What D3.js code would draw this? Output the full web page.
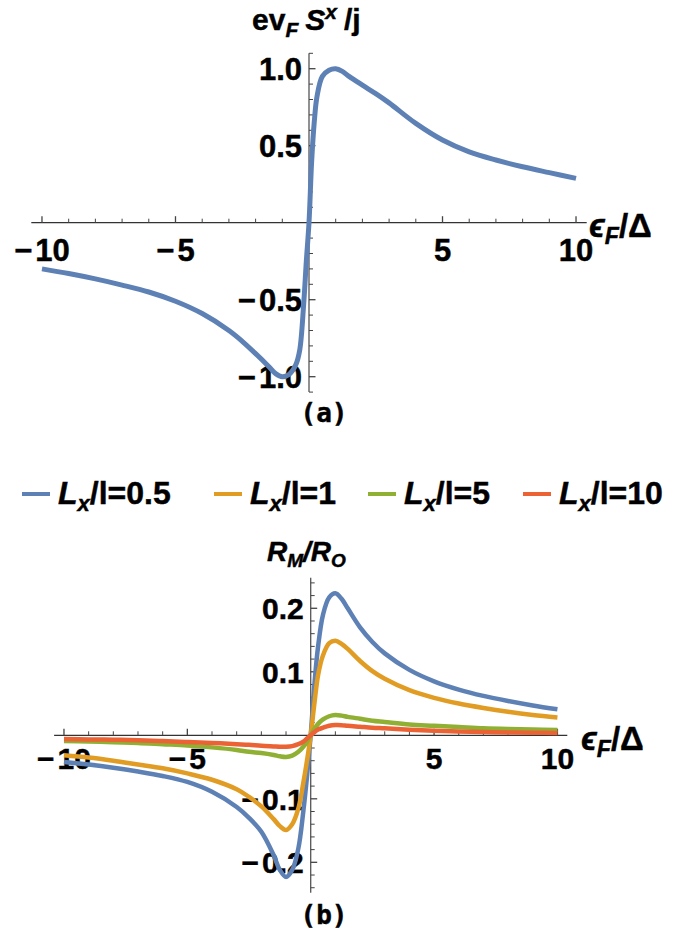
<!DOCTYPE html>
<html><head><meta charset="utf-8">
<script src="https://cdn.jsdelivr.net/npm/d3@7"></script>
<style>body{margin:0;background:#fff}text{font-family:"Liberation Sans",Arial,sans-serif;font-weight:bold;fill:#000;stroke:#000;stroke-width:0.45px}</style>
</head><body><svg id="c" width="697" height="938"></svg>
<script>
// ---------- data ----------
const topX = [-10,-9,-8,-7,-6,-5,-4,-3,-2.5,-2,-1.5,-1.25,-1,-0.75,-0.5,-0.35,-0.2,-0.1,0,0.1,0.2,0.3,0.5,0.75,1,1.25,1.5,2,2.5,3,4,5,6,7,8,9,10];
const topY = [-0.30,-0.33,-0.365,-0.405,-0.45,-0.51,-0.59,-0.70,-0.77,-0.85,-0.935,-0.98,-1.0,-0.985,-0.925,-0.83,-0.53,-0.25,0,0.40,0.66,0.82,0.95,0.99,1.0,0.983,0.95,0.893,0.838,0.778,0.645,0.537,0.46,0.407,0.363,0.325,0.288];

const botX = [-10,-9,-8,-7,-6,-5,-4,-3,-2.5,-2,-1.5,-1.25,-1,-0.75,-0.5,-0.3,-0.15,0,0.15,0.3,0.5,0.75,1,1.25,1.5,2,2.5,3,4,5,6,7,8,9,10];
const seriesNames = ["L_x/l=0.5","L_x/l=1","L_x/l=5","L_x/l=10"];
const seriesLabelTail = ["/l=0.5","/l=1","/l=5","/l=10"];
const blueY   = [-0.042,-0.046,-0.051,-0.057,-0.064,-0.0735,-0.089,-0.113,-0.13,-0.152,-0.189,-0.212,-0.223,-0.212,-0.178,-0.12,-0.065,0,0.08,0.14,0.19,0.217,0.2236,0.215,0.200,0.170,0.147,0.129,0.103,0.085,0.072,0.062,0.054,0.047,0.041];
const orangeY = [-0.0315,-0.035,-0.040,-0.046,-0.052,-0.060,-0.070,-0.085,-0.097,-0.112,-0.132,-0.143,-0.149,-0.140,-0.115,-0.075,-0.040,0,0.05,0.095,0.126,0.145,0.149,0.144,0.136,0.117,0.101,0.089,0.071,0.059,0.050,0.043,0.037,0.032,0.028];
const greenY  = [-0.009,-0.0098,-0.011,-0.012,-0.014,-0.016,-0.019,-0.023,-0.026,-0.028,-0.031,-0.033,-0.034,-0.032,-0.026,-0.018,-0.010,0,0.010,0.018,0.025,0.030,0.032,0.031,0.029,0.026,0.023,0.021,0.017,0.015,0.013,0.011,0.0098,0.009,0.0083];
const redY    = [-0.006,-0.0065,-0.007,-0.0078,-0.009,-0.0105,-0.012,-0.014,-0.015,-0.0165,-0.0175,-0.018,-0.018,-0.017,-0.014,-0.010,-0.005,0,0.005,0.009,0.012,0.015,0.0162,0.016,0.015,0.0135,0.012,0.011,0.0088,0.0072,0.006,0.0052,0.0046,0.0041,0.0037];
const botSeries = [blueY, orangeY, greenY, redY];
const colors = ["#5E81B5","#E19C24","#8FB032","#EB6235"];

const topXTicks = [-10,-5,5,10];
const topYTicks = [-1.0,-0.5,0.5,1.0];
const topXTickLabels = ["\u221210","\u22125","5","10"];
const topYTickLabels = ["\u22121.0","\u22120.5","0.5","1.0"];
const botXTicks = [-10,-5,5,10];
const botYTicks = [-0.2,-0.1,0.1,0.2];
const botXTickLabels = ["\u221210","\u22125","5","10"];
const botYTickLabels = ["\u22120.2","\u22120.1","0.1","0.2"];

// ---------- drawing ----------
const svg = d3.select("#c");
const xT = d3.scaleLinear().domain([-10.4,10.4]).range([31.3,586.7]);
const yT = d3.scaleLinear().domain([-1.1,1.1]).range([392.1,53.3]);
const xB = d3.scaleLinear().domain([-10.4,10.4]).range([54.1,567.3]);
const yB = d3.scaleLinear().domain([-0.248,0.248]).range([892.8,577.8]);

function tickText(sel, s){
  if (s[0] === "\u2212") { sel.append("tspan").text("\u2212"); sel.append("tspan").attr("dx",3).text(s.slice(1)); }
  else sel.text(s);
}

function axes(g, x, y, xMinor, yMinor, xMaj, yMaj, xLab, yLab, fs, lblOff){
  const x0 = x(0), y0 = y(0);
  const xd = x.domain(), yd = y.domain();
  g.append("line").attr("x1",x(xd[0])).attr("x2",x(xd[1])).attr("y1",y0).attr("y2",y0).attr("stroke","#333").attr("stroke-width",1.3);
  g.append("line").attr("x1",x0).attr("x2",x0).attr("y1",y(yd[0])).attr("y2",y(yd[1])).attr("stroke","#555").attr("stroke-width",1.3);
  xMinor.forEach(v=>{ if(Math.abs(v)<1e-9) return; const maj = xMaj.some(m=>Math.abs(m-v)<1e-9);
    g.append("line").attr("x1",x(v)).attr("x2",x(v)).attr("y1",y0).attr("y2",y0-(maj?6.5:4)).attr("stroke","#444").attr("stroke-width",maj?1.3:1);});
  yMinor.forEach(v=>{ if(Math.abs(v)<1e-9) return; const maj = yMaj.some(m=>Math.abs(m-v)<1e-9);
    g.append("line").attr("x1",x0).attr("x2",x0+(maj?6.5:4)).attr("y1",y(v)).attr("y2",y(v)).attr("stroke","#444").attr("stroke-width",maj?1.3:1);});
  xMaj.forEach((v,i)=>tickText(g.append("text").attr("x",x(v)).attr("y",y0+lblOff).attr("text-anchor","middle").attr("font-size",fs), xLab[i]));
  yMaj.forEach((v,i)=>tickText(g.append("text").attr("x",x0-7).attr("y",y(v)+fs*0.36).attr("text-anchor","end").attr("font-size",fs), yLab[i]));
}

const curve = d3.curveCatmullRom.alpha(0.5);

// top panel
const gT = svg.append("g");
axes(gT, xT, yT, d3.range(-10,10.5,1), d3.range(-11,11.5,1).map(d=>d/10), topXTicks, topYTicks, topXTickLabels, topYTickLabels, 31, 38);
const lineT = d3.line().x((d,i)=>xT(topX[i])).y(d=>yT(d)).curve(curve);
gT.append("path").attr("d",lineT(topY)).attr("fill","none").attr("stroke",colors[0]).attr("stroke-width",5).attr("stroke-linejoin","round");

// top title
const tt = gT.append("text").attr("x",252).attr("y",30).attr("font-size",30);
tt.append("tspan").text("ev");
tt.append("tspan").attr("font-style","italic").attr("font-size",21).attr("dy",7).text("F");
tt.append("tspan").attr("font-style","italic").attr("dy",-7).attr("dx",7).text("S");
tt.append("tspan").attr("font-style","italic").attr("font-size",21).attr("dy",-11).text("x");
tt.append("tspan").attr("dy",11).attr("dx",7).text("/j");

function epsLabel(g, x, y){
  const t = g.append("text").attr("x",x).attr("y",y).attr("font-size",33);
  t.append("tspan").attr("font-style","italic").text("\u03F5");
  t.append("tspan").attr("font-style","italic").attr("font-size",23).attr("dy",7).text("F");
  t.append("tspan").attr("dy",-7).text("/\u0394");
}
epsLabel(gT, 589, 237);

gT.append("text").attr("x",324).attr("y",422).attr("text-anchor","middle").attr("font-size",26)
  .style("font-family","'DejaVu Sans Mono',monospace").text("(a)");

// legend
const legText = [58,250,404,559];
seriesNames.forEach((n,i)=>{
  const lg = svg.append("g");
  lg.append("line").attr("x1",legText[i]-36).attr("x2",legText[i]-8).attr("y1",494).attr("y2",494).attr("stroke",colors[i]).attr("stroke-width",4);
  const t = lg.append("text").attr("x",legText[i]).attr("y",504).attr("font-size",32);
  t.append("tspan").attr("font-style","italic").text("L");
  t.append("tspan").attr("font-style","italic").attr("font-size",22).attr("dy",7).text("x");
  t.append("tspan").attr("dy",-7).text(seriesLabelTail[i]);
});

// bottom panel
const gB = svg.append("g");
axes(gB, xB, yB, d3.range(-10,10.5,1), d3.range(-24,25,2).map(d=>d/100), botXTicks, botYTicks, botXTickLabels, botYTickLabels, 30, 34);
const lineB = d3.line().x((d,i)=>xB(botX[i])).y(d=>yB(d)).curve(curve);
botSeries.forEach((s,i)=>{
  gB.append("path").attr("d",lineB(s)).attr("fill","none").attr("stroke",colors[i]).attr("stroke-width",4.5).attr("stroke-linejoin","round");
});
const bt = gB.append("text").attr("x",267).attr("y",561).attr("font-size",28).attr("font-style","italic");
bt.append("tspan").text("R");
bt.append("tspan").attr("font-size",19).attr("dy",6).text("M");
bt.append("tspan").attr("dy",-6).text("/R");
bt.append("tspan").attr("font-size",19).attr("dy",6).text("O");
epsLabel(gB, 581, 750);
gB.append("text").attr("x",324).attr("y",924).attr("text-anchor","middle").attr("font-size",26)
  .style("font-family","'DejaVu Sans Mono',monospace").text("(b)");
</script></body></html>
